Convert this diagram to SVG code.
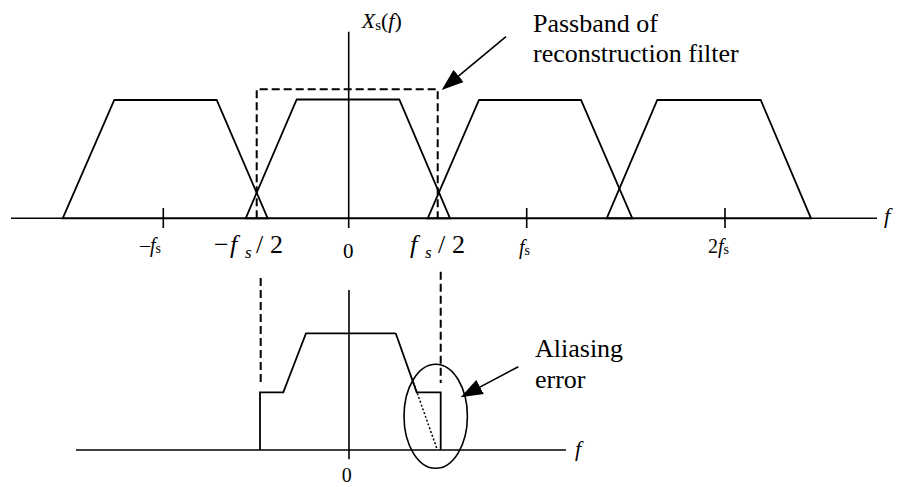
<svg xmlns="http://www.w3.org/2000/svg" width="898" height="487" viewBox="0 0 898 487">
<style>
.ln{fill:none;stroke:#000;stroke-width:1.6}
.tr{fill:none;stroke:#000;stroke-width:1.8;stroke-linejoin:miter}
.da{fill:none;stroke:#000;stroke-width:2;stroke-dasharray:8 4}
.do{fill:none;stroke:#000;stroke-width:1.5;stroke-dasharray:2 2}
.t{font-family:"Liberation Serif","Times New Roman",serif;fill:#000}
.i{font-style:italic}
</style>
<defs>
<marker id="ah" markerUnits="userSpaceOnUse" markerWidth="24" markerHeight="16" refX="12" refY="8" orient="auto">
<path d="M0,0 L22,8 L0,16 z" fill="#000"/>
</marker>
</defs>

<g id="top-axes">
<line class="ln" x1="11" y1="218.3" x2="877" y2="218.3"/>
<line class="ln" x1="348.7" y1="31.7" x2="348.7" y2="228"/>
<line class="ln" x1="163.3" y1="208" x2="163.3" y2="228"/>
<line class="ln" x1="526.7" y1="208" x2="526.7" y2="228"/>
<line class="ln" x1="725" y1="208" x2="725" y2="228"/>
</g>

<g id="spectra">
<polygon class="tr" points="62.7,218.3 114.3,100 216.7,100 267.7,218.3"/>
<polygon class="tr" points="245.7,218.3 296.7,99.5 399.3,99.5 450,218.3"/>
<polygon class="tr" points="427.7,218.3 479,100 581,100 632.3,218.3"/>
<polygon class="tr" points="606.7,218.3 657.3,100 760.7,100 811,218.3"/>
</g>

<g id="passband">
<polyline class="da" points="256.7,218.3 256.7,89.3 437.7,89.3 437.7,218.3"/>
</g>

<g id="bottom-axes">
<line class="ln" x1="76" y1="450" x2="566" y2="450"/>
<line class="ln" x1="349" y1="290" x2="349" y2="459.3"/>
</g>

<g id="reconstructed">
<polyline class="tr" points="260,450 260,392.3 283.3,392.3 306,333.3 395.7,333.3"/>
<polyline class="tr" points="395.7,333.3 416.7,392.3 440.7,392.3 440.7,450"/>
<line class="do" x1="413.3" y1="382" x2="437" y2="449"/>
</g>

<g id="aliasing-region">
<ellipse class="ln" cx="435.7" cy="416.3" rx="31.7" ry="52"/>
</g>

<g id="connectors">
<line class="da" x1="260.7" y1="278" x2="260.7" y2="382"/>
<line class="da" x1="440.7" y1="271.7" x2="440.7" y2="383"/>
<line class="ln" x1="506" y1="36.7" x2="449.4" y2="83.6" marker-end="url(#ah)"/>
<line class="ln" x1="518.3" y1="366.7" x2="469.5" y2="392.6" marker-end="url(#ah)"/>
</g>

<g id="labels">
<text class="t" x="361.7" y="28.3" font-size="22"><tspan class="i">X</tspan><tspan font-size="15" dy="2">s</tspan><tspan dy="-2">(</tspan><tspan class="i">f</tspan>)</text>
<text class="t" x="533" y="31.7" font-size="26">Passband of</text>
<text class="t" x="533" y="61.7" font-size="26">reconstruction filter</text>
<text class="t i" x="884" y="223" font-size="22">f</text>

<text class="t" x="140" y="251.7" font-size="20">–<tspan class="i">f</tspan><tspan font-size="14" dy="1">s</tspan></text>
<text class="t" font-size="26"><tspan x="214" y="253">−</tspan><tspan class="i" x="230" y="253">f</tspan><tspan class="i" font-size="17" x="245" y="258">s</tspan><tspan x="256" y="253">/</tspan><tspan x="270" y="253">2</tspan></text>
<text class="t" x="343" y="258" font-size="21">0</text>
<text class="t" font-size="26"><tspan class="i" x="410" y="253">f</tspan><tspan class="i" font-size="17" x="425" y="258">s</tspan><tspan x="438" y="253">/</tspan><tspan x="452" y="253">2</tspan></text>
<text class="t" x="519" y="254" font-size="20"><tspan class="i">f</tspan><tspan font-size="14" dy="1">s</tspan></text>
<text class="t" x="708" y="253" font-size="20">2<tspan class="i">f</tspan><tspan font-size="14" dy="1">s</tspan></text>

<text class="t" x="341.7" y="482" font-size="20">0</text>
<text class="t i" x="575" y="456" font-size="22">f</text>
<text class="t" x="535" y="356.7" font-size="26">Aliasing</text>
<text class="t" x="535" y="388.3" font-size="26">error</text>
</g>
</svg>
